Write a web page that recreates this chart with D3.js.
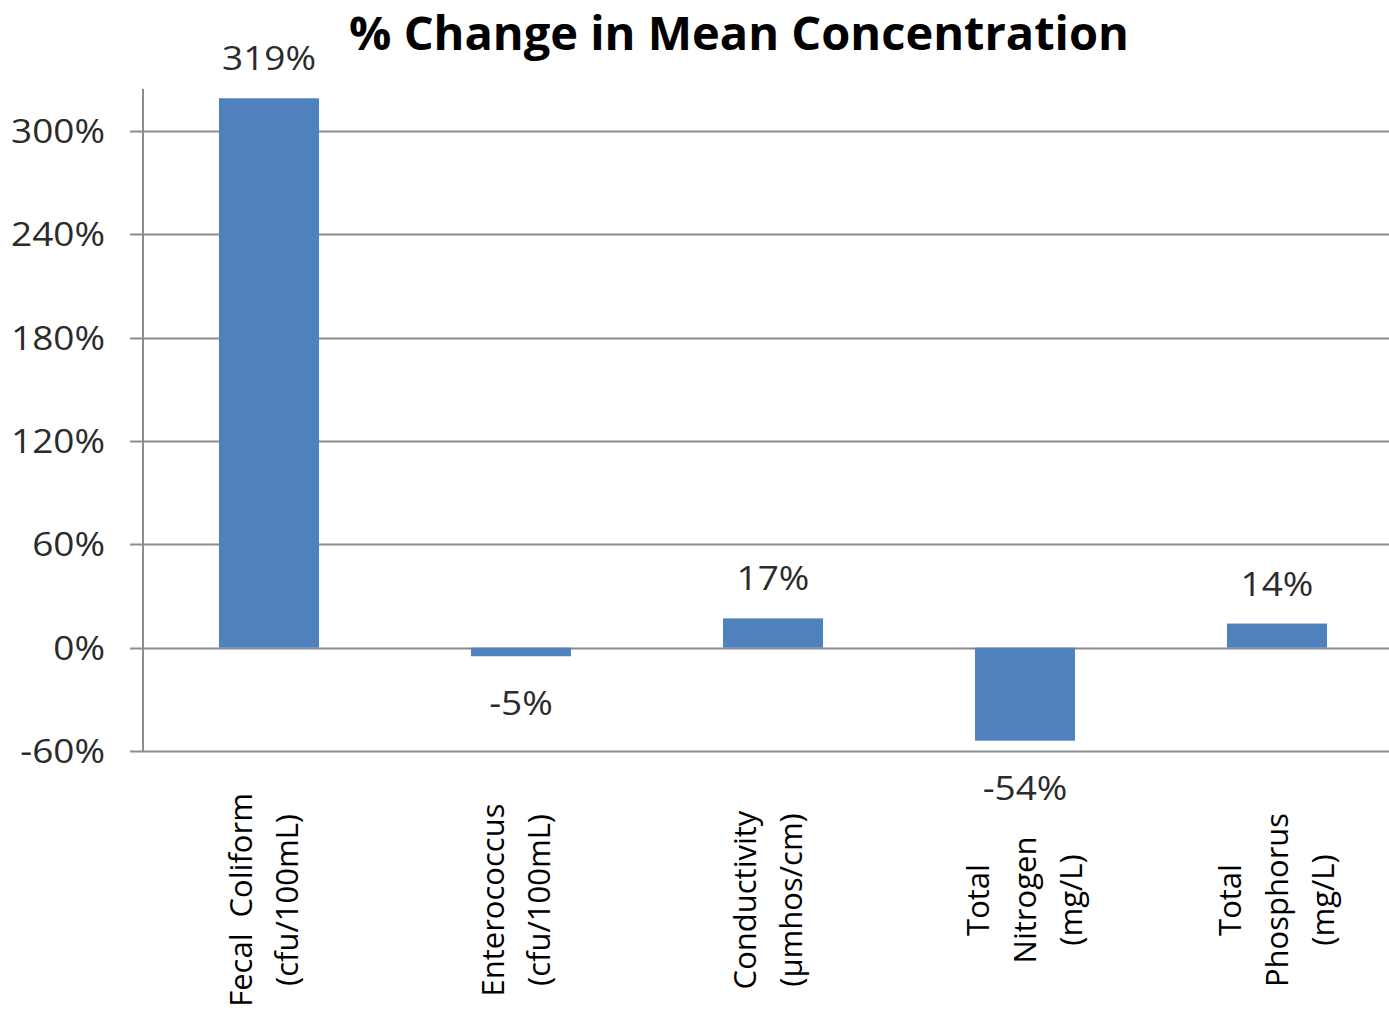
<!DOCTYPE html>
<html>
<head>
<meta charset="utf-8">
<script src="https://cdn.jsdelivr.net/npm/d3@7"></script>
<style>
  html, body { margin: 0; padding: 0; background: #fff; }
  svg { display: block; }
</style>
</head>
<body>
<svg id="chart" width="1389" height="1014"></svg>
<script>
const categories = [
  ["Fecal  Coliform", "(cfu/100mL)"],
  ["Enterococcus", "(cfu/100mL)"],
  ["Conductivity", "(µmhos/cm)"],
  ["Total", "Nitrogen", "(mg/L)"],
  ["Total", "Phosphorus", "(mg/L)"]
];
const values = [319, -5, 17, -54, 14];
const valueLabels = ["319%", "-5%", "17%", "-54%", "14%"];
const yTicks = [-60, 0, 60, 120, 180, 240, 300];
const title = "% Change in Mean Concentration";

const svg = d3.select("#chart");
const W = 1389, H = 1014;
const left = 143, right = 1403;
const font = "'Open Sans', 'Noto Sans', sans-serif";

function stretch(sel, f) {
  sel.each(function() {
    const L = this.getComputedTextLength();
    d3.select(this).attr("textLength", L * f).attr("lengthAdjust", "spacingAndGlyphs");
  });
}

const x = d3.scaleBand().domain(d3.range(categories.length)).range([left, right]).paddingInner(0.603).paddingOuter(0.3015);
const y = d3.scaleLinear().domain([-60, 300]).range([751, 131]);
const yTop = y(324.5);

// gridlines
svg.append("g").selectAll("line").data(yTicks).join("line")
  .attr("x1", left - 13).attr("x2", W)
  .attr("y1", d => Math.round(y(d)) + 0.5).attr("y2", d => Math.round(y(d)) + 0.5)
  .attr("stroke", "#8c8c8c").attr("stroke-width", 2);

// y axis line
svg.append("line").attr("x1", left).attr("x2", left).attr("y1", yTop).attr("y2", y(-60))
  .attr("stroke", "#8c8c8c").attr("stroke-width", 2);

// y tick labels
const yt = svg.append("g").selectAll("text").data(yTicks).join("text")
  .attr("x", 105).attr("y", d => y(d)).attr("dy", "0.36em")
  .attr("text-anchor", "end")
  .attr("font-family", font).attr("font-size", 33).attr("fill", "#2b2b2b")
  .text(d => d + "%");
stretch(yt, 1.12);

// bars
svg.append("g").selectAll("rect").data(values).join("rect")
  .attr("x", (d, i) => x(i)).attr("width", x.bandwidth())
  .attr("y", d => y(Math.max(0, d))).attr("height", d => Math.abs(y(d) - y(0)))
  .attr("fill", "#4f81bd");

// value labels
const vl = svg.append("g").selectAll("text").data(values).join("text")
  .attr("x", (d, i) => x(i) + x.bandwidth() / 2)
  .attr("y", d => d >= 0 ? y(d) - 28 : y(d) + 59)
  .attr("text-anchor", "middle")
  .attr("font-family", font).attr("font-size", 33).attr("fill", "#2b2b2b")
  .text((d, i) => valueLabels[i]);
stretch(vl, 1.12);

// category labels (rotated)
const cat = svg.append("g").selectAll("g").data(categories).join("g")
  .attr("transform", (d, i) => `translate(${x(i) + x.bandwidth() / 2 + (d.length === 2 ? -5 : 0)},900) rotate(-90)`);
cat.each(function(lines) {
  const g = d3.select(this);
  const n = lines.length, sp = 46.5;
  lines.forEach((t, k) => {
    g.append("text")
      .attr("x", 0).attr("y", (k - (n - 1) / 2) * sp).attr("dy", "0.35em")
      .attr("text-anchor", "middle")
      .attr("font-family", font).attr("font-size", 31).attr("fill", "#000")
      .attr("xml:space", "preserve")
      .text(t);
  });
});

// title
svg.append("text").attr("x", 739).attr("y", 50)
  .attr("text-anchor", "middle")
  .attr("font-family", font).attr("font-weight", "bold").attr("font-size", 47).attr("fill", "#000")
  .text(title);
</script>
</body>
</html>
